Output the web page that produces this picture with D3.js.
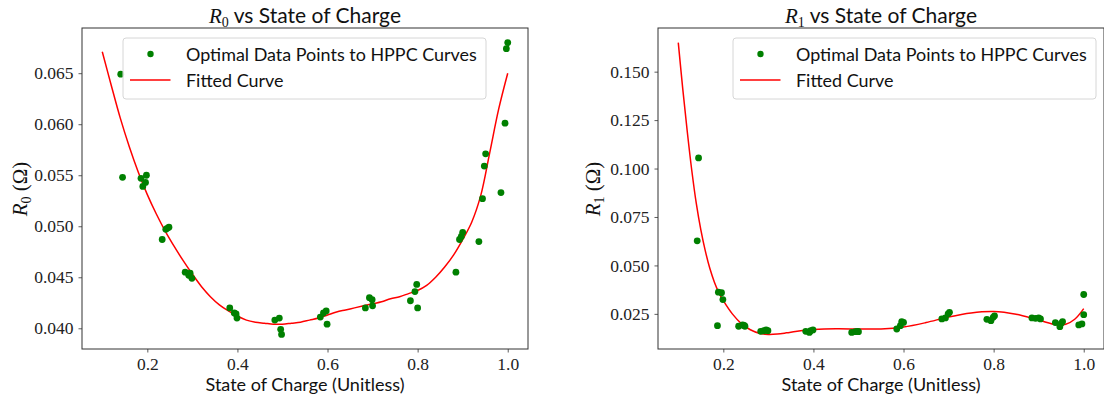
<!DOCTYPE html>
<html><head><meta charset="utf-8">
<script src="https://cdn.jsdelivr.net/npm/d3@7"></script>
<style>
html,body{margin:0;padding:0;background:#fff;}
svg{display:block;}
</style></head>
<body>
<svg id="chart" width="1104" height="401"></svg>
<script>
// ---- Data ----
const xTicks = [0.2, 0.4, 0.6, 0.8, 1.0];
const r0Ticks = [0.040, 0.045, 0.050, 0.055, 0.060, 0.065];
const r1Ticks = [0.025, 0.050, 0.075, 0.100, 0.125, 0.150];

const soc0 = [0.141,0.145,0.186,0.198,0.196,0.190,0.233,0.241,0.244,0.248,0.284,0.295,0.292,0.299,
  0.383,0.393,0.397,0.399,0.483,0.493,0.496,0.498,0.584,0.591,0.597,0.599,0.684,0.693,0.699,0.700,
  0.784,0.794,0.798,0.800,0.885,0.893,0.897,0.900,0.936,0.944,0.948,0.951,0.985,0.994,0.997,1.000];
const r0Values = [0.0649,0.0548,0.0547,0.0550,0.0543,0.0539,0.0487,0.0497,0.0498,0.0499,0.0455,0.0454,0.0452,0.0449,
  0.0420,0.0415,0.0414,0.0410,0.0408,0.0410,0.0399,0.0394,0.0411,0.0415,0.0417,0.0404,0.0420,0.0430,0.0428,0.0422,
  0.0427,0.0436,0.0443,0.0420,0.0455,0.0487,0.0490,0.0494,0.0485,0.0527,0.0559,0.0571,0.0533,0.0601,0.0674,0.0680];

const fitSoc0 = [0.10,0.12,0.14,0.16,0.18,0.20,0.22,0.24,0.26,0.28,0.30,0.32,0.34,0.36,0.38,0.40,0.42,0.44,0.46,0.48,0.50,
  0.52,0.54,0.56,0.58,0.60,0.62,0.64,0.66,0.68,0.70,0.72,0.74,0.76,0.78,0.80,0.82,0.84,0.86,0.88,0.90,0.92,0.94,0.96,0.98,1.00];
const fitR0 = [0.0671,0.0638,0.0606,0.0578,0.0553,0.0531,0.0512,0.0495,0.0480,0.0466,0.0453,0.0441,0.0431,0.0423,0.0417,0.0412,0.0408,0.0406,0.0405,0.0404,0.0404,
  0.0405,0.0406,0.0408,0.0410,0.0413,0.0416,0.0418,0.0420,0.0422,0.0424,0.0426,0.0429,0.0431,0.0434,0.0437,0.0442,0.0450,0.0460,0.0472,0.0487,0.0504,0.0530,0.0572,0.0615,0.0650];

const soc1 = [0.142,0.145,0.187,0.189,0.196,0.199,0.234,0.243,0.248,0.246,0.283,0.290,0.295,0.299,
  0.383,0.391,0.394,0.399,0.485,0.493,0.498,0.500,0.585,0.593,0.596,0.600,0.685,0.693,0.699,0.702,
  0.785,0.794,0.799,0.802,0.885,0.893,0.900,0.904,0.937,0.947,0.950,0.953,0.989,0.996,1.000,1.000];
const r1Values = [0.0627,0.1055,0.0189,0.0362,0.0359,0.0324,0.0186,0.0193,0.0186,0.0190,0.0160,0.0163,0.0167,0.0163,
  0.0160,0.0154,0.0163,0.0167,0.0154,0.0158,0.0160,0.0158,0.0172,0.0189,0.0210,0.0206,0.0224,0.0229,0.0250,0.0258,
  0.0222,0.0215,0.0232,0.0240,0.0229,0.0227,0.0229,0.0224,0.0205,0.0184,0.0201,0.0210,0.0193,0.0198,0.0246,0.0350];

const fitSoc1 = [0.10,0.11,0.12,0.13,0.14,0.15,0.16,0.17,0.18,0.19,0.20,0.22,0.24,0.26,0.28,0.30,0.32,0.34,0.36,0.38,0.40,
  0.45,0.50,0.55,0.60,0.65,0.70,0.75,0.80,0.85,0.90,0.94,0.96,0.98,1.00];
const fitR1 = [0.1650,0.1410,0.1190,0.0990,0.0820,0.0685,0.0575,0.0485,0.0415,0.0360,0.0318,0.0250,0.0200,0.0168,0.0150,0.0144,0.0146,0.0152,0.0159,0.0165,0.0169,
  0.0173,0.0172,0.0172,0.0182,0.0205,0.0234,0.0255,0.0262,0.0248,0.0218,0.0194,0.0196,0.0222,0.0277];

// ---- Drawing ----
const svg = d3.select("#chart");
const SANS = "Lato, 'Open Sans', sans-serif";
const SERIF = "'Liberation Serif', 'DejaVu Serif', serif";

function fitWidth(sel, target) {
  const node = sel.node();
  const fs = parseFloat(sel.attr("font-size"));
  const w = node.getComputedTextLength();
  if (w > 0) sel.attr("font-size", (fs * target / w).toFixed(2));
}

function panel(opt) {
  const {left, right, top, bottom, xs, ys, yTicks, sub, clipId} = opt;
  const x = d3.scaleLinear().domain([0.055, 1.045]).range([left, right]);
  const yExt = d3.extent(ys.concat(opt.fitY));
  const pad = (yExt[1]-yExt[0])*0.05;
  const y = d3.scaleLinear().domain([yExt[0]-pad, yExt[1]+pad]).range([bottom, top]);

  const g = svg.append("g");
  svg.append("clipPath").attr("id", clipId).append("rect")
    .attr("x", left).attr("y", top).attr("width", right-left).attr("height", bottom-top);

  const xAxis = g.append("g").attr("transform", `translate(0,${bottom})`)
    .call(d3.axisBottom(x).tickValues(xTicks).tickFormat(d3.format(".1f")).tickSize(3.5).tickPadding(5));
  const yAxis = g.append("g").attr("transform", `translate(${left},0)`)
    .call(d3.axisLeft(y).tickValues(yTicks).tickFormat(d3.format(".3f")).tickSize(3.5).tickPadding(5));
  [xAxis, yAxis].forEach(a => {
    a.select(".domain").remove();
    a.selectAll(".tick line").attr("stroke", "#333").attr("stroke-width", 0.8);
    a.selectAll(".tick text").attr("font-family", SERIF).attr("font-size", 17.5).attr("fill", "#222");
  });

  const plot = g.append("g").attr("clip-path", `url(#${clipId})`);
  const line = d3.line().x(d => x(d[0])).y(d => y(d[1])).curve(d3.curveCatmullRom.alpha(0.5));
  plot.append("path").datum(opt.fitX.map((v,i)=>[v, opt.fitY[i]]))
    .attr("d", line).attr("fill", "none").attr("stroke", "#ff0000").attr("stroke-width", 1.5);
  plot.selectAll("circle").data(xs.map((v,i)=>[v, ys[i]])).join("circle")
    .attr("cx", d => x(d[0])).attr("cy", d => y(d[1])).attr("r", 3.4).attr("fill", "#008000");

  g.append("rect").attr("x", left).attr("y", top).attr("width", right-left).attr("height", bottom-top)
    .attr("fill", "none").attr("stroke", "#333").attr("stroke-width", 1);

  const cx = opt.titleCx || (left + right)/2;
  const t = g.append("text").attr("x", cx).attr("y", 23).attr("text-anchor", "middle")
    .attr("font-size", 21).attr("fill", "#111");
  t.append("tspan").attr("font-family", SERIF).attr("font-style", "italic").text("R");
  t.append("tspan").attr("font-family", SERIF).attr("font-size", 14).attr("dy", 4).text(sub);
  t.append("tspan").attr("font-family", SANS).attr("dy", -4).text(" vs State of Charge");

  const xl = g.append("text").attr("x", cx).attr("y", 391).attr("text-anchor", "middle")
    .attr("font-family", SANS).attr("font-size", 19).attr("fill", "#111").text("State of Charge (Unitless)");
  fitWidth(xl, 199);

  const yl = g.append("text").attr("transform", `translate(${opt.ylabX},189) rotate(-90)`)
    .attr("text-anchor", "middle").attr("font-family", SERIF).attr("font-size", 21).attr("fill", "#111");
  yl.append("tspan").attr("font-style", "italic").text("R");
  yl.append("tspan").attr("font-size", 14).attr("dy", 4).text(sub);
  yl.append("tspan").attr("dy", -4).text(" (Ω)");

  const L = opt.legend;
  const lg = g.append("g");
  lg.append("rect").attr("x", L.x).attr("y", 38).attr("width", L.w).attr("height", 61).attr("rx", 3)
    .attr("fill", "rgba(255,255,255,0.8)").attr("stroke", "#d6d6d6").attr("stroke-width", 1);
  lg.append("circle").attr("cx", L.x + 27.5).attr("cy", 54).attr("r", 3.2).attr("fill", "#008000");
  lg.append("line").attr("x1", L.x + 7).attr("x2", L.x + 47.5).attr("y1", 80).attr("y2", 80)
    .attr("stroke", "#ff0000").attr("stroke-width", 1.5);
  const t1 = lg.append("text").attr("x", L.x + 63).attr("y", 61).attr("font-family", SANS).attr("font-size", 20)
    .attr("fill", "#111").text("Optimal Data Points to HPPC Curves");
  fitWidth(t1, 291);
  lg.append("text").attr("x", L.x + 63).attr("y", 87).attr("font-family", SANS).attr("font-size", t1.attr("font-size"))
    .attr("fill", "#111").text("Fitted Curve");
}

panel({left: 82, right: 528, top: 28, bottom: 349, xs: soc0, ys: r0Values, fitX: fitSoc0, fitY: fitR0,
  yTicks: r0Ticks, sub: "0", clipId: "c0", ylabX: 27, legend: {x: 123, w: 363}});
panel({left: 658, right: 1104, top: 28, bottom: 349, xs: soc1, ys: r1Values, fitX: fitSoc1, fitY: fitR1,
  yTicks: r1Ticks, sub: "1", clipId: "c1", ylabX: 600, legend: {x: 733, w: 363}, titleCx: 881});
</script>
</body></html>
